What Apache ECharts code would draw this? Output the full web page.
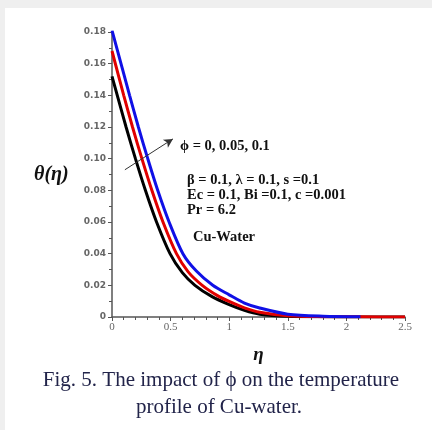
<!DOCTYPE html>
<html>
<head>
<meta charset="utf-8">
<script src="https://cdn.jsdelivr.net/npm/echarts@6/dist/echarts.min.js"></script>
<style>
html,body{margin:0;padding:0;background:#efefef;}
#wrap{position:absolute;left:0;top:0;width:432px;height:430px;background:#efefef;}
#chart{position:absolute;left:5px;top:8px;width:427px;height:422px;background:#fff;}
</style>
</head>
<body>
<div id="wrap"><div id="chart"></div></div>
<script>
// Data (eta, theta) for phi = 0 (black), 0.05 (red), 0.1 (blue)
const etaBlack   = [0, 0.045, 0.12, 0.2, 0.285, 0.38, 0.495, 0.6, 0.708, 0.85, 1.0, 1.13, 1.26, 1.5, 1.8, 2.1, 2.5];
const thetaBlack = [0.152, 0.14, 0.12, 0.10, 0.08, 0.06, 0.04, 0.028, 0.02, 0.013, 0.0078, 0.0042, 0.0018, 0.0004, 0.0001, 0, 0];
const etaRed     = [0, 0.1, 0.175, 0.255, 0.34, 0.435, 0.55, 0.65, 0.77, 0.9, 1.0, 1.13, 1.26, 1.5, 1.8, 2.1, 2.5];
const thetaRed   = [0.168, 0.14, 0.12, 0.10, 0.08, 0.06, 0.04, 0.0285, 0.02, 0.0135, 0.0098, 0.0058, 0.003, 0.0008, 0.0002, 0.0001, 0];
const etaBlue    = [0, 0.15, 0.225, 0.305, 0.39, 0.487, 0.605, 0.72, 0.86, 1.0, 1.13, 1.26, 1.5, 1.8, 2.12];
const thetaBlue  = [0.181, 0.14, 0.12, 0.10, 0.08, 0.06, 0.04, 0.029, 0.02, 0.014, 0.0088, 0.0057, 0.0018, 0.0005, 0.0002];
const xTicks = [0, 0.5, 1, 1.5, 2, 2.5];
const yTicks = [0, 0.02, 0.04, 0.06, 0.08, 0.10, 0.12, 0.14, 0.16, 0.18];
const arrowFrom = [0.11, 0.093];
const arrowTo = [0.52, 0.1125];

const pairs = (xs, ys) => xs.map((x, i) => [x, ys[i]]);
const chart = echarts.init(document.getElementById('chart'), null, {renderer: 'canvas'});
// chart div offset: left 5, top 8
const OX = 5, OY = 8;
const serif = '"Liberation Serif", "DejaVu Serif", serif';
const line = (name, color, xs, ys, z, extra) => Object.assign({
  name, type: 'line', data: pairs(xs, ys), showSymbol: false, symbol: 'none',
  smooth: 0.3, z,
  lineStyle: {color, width: 3}, itemStyle: {color}
}, extra || {});

chart.setOption({
  animation: false,
  backgroundColor: '#fff',
  grid: {left: 112 - OX, right: 27, top: 32 - OY, bottom: 430 - 317 , containLabel: false},
  xAxis: {
    type: 'value', min: 0, max: 2.5, interval: 0.5,
    axisLine: {show: true, onZero: false, lineStyle: {color: '#555', width: 1.5}},
    axisTick: {show: true, length: 4, lineStyle: {color: '#555'}},
    minorTick: {show: true, splitNumber: 5, length: 3, lineStyle: {color: '#555'}},
    splitLine: {show: false},
    axisLabel: {color: '#666', fontFamily: serif, fontSize: 11, margin: 5,
      formatter: v => xTicks.includes(v) ? String(v) : ''},
    name: 'η', nameLocation: 'middle', nameGap: 29,
    nameTextStyle: {fontFamily: serif, fontStyle: 'italic', fontWeight: 'bold', fontSize: 19, color: '#111'}
  },
  yAxis: {
    type: 'value', min: 0, max: 0.18, interval: 0.02,
    axisLine: {show: true, onZero: false, lineStyle: {color: '#555', width: 1.5}},
    axisTick: {show: true, length: 4, lineStyle: {color: '#555'}},
    minorTick: {show: true, splitNumber: 2, length: 3, lineStyle: {color: '#555'}},
    splitLine: {show: false},
    axisLabel: {color: '#666', fontFamily: '"DejaVu Sans", sans-serif', fontWeight: 'bold', fontSize: 9, margin: 6,
      formatter: v => { const t = yTicks.find(q => Math.abs(q - v) < 1e-9); return t === 0 ? '0' : t.toFixed(2); }}
  },
  series: [
    line('phi=0', '#000000', etaBlack, thetaBlack, 2),
    line('phi=0.05', '#e00000', etaRed, thetaRed, 3),
    line('phi=0.1', '#1010e6', etaBlue, thetaBlue, 4, {
      markLine: {
        silent: true, symbol: ['none', 'arrow'], symbolSize: [7, 9],
        label: {show: false},
        lineStyle: {color: '#333', width: 1, type: 'solid'},
        data: [[{coord: arrowFrom}, {coord: arrowTo}]]
      }
    })
  ],
  graphic: [
    {type: 'text', left: 34 - OX, top: 165 - OY, style: {text: 'θ(η)', font: 'italic bold 20px ' + serif, fill: '#111'}},
    {type: 'text', left: 180 - OX, top: 139 - OY, style: {text: 'ϕ = 0, 0.05, 0.1', font: 'bold 14.5px ' + serif, fill: '#111'}},
    {type: 'text', left: 187 - OX, top: 173 - OY, style: {text: 'β = 0.1, λ = 0.1, s =0.1', font: 'bold 14.5px ' + serif, fill: '#111'}},
    {type: 'text', left: 187 - OX, top: 188 - OY, style: {text: 'Ec = 0.1, Bi =0.1, c =0.001', font: 'bold 14.5px ' + serif, fill: '#111'}},
    {type: 'text', left: 187 - OX, top: 203 - OY, style: {text: 'Pr = 6.2', font: 'bold 14.5px ' + serif, fill: '#111'}},
    {type: 'text', left: 193 - OX, top: 230 - OY, style: {text: 'Cu-Water', font: 'bold 14.5px ' + serif, fill: '#111'}},
    {type: 'text', x: 221 - OX, y: 380 - OY, style: {text: 'Fig. 5. The impact of ϕ on the temperature', font: '21px ' + serif, fill: '#22244a', align: 'center', verticalAlign: 'middle'}},
    {type: 'text', x: 219 - OX, y: 407 - OY, style: {text: 'profile of Cu-water.', font: '21px ' + serif, fill: '#22244a', align: 'center', verticalAlign: 'middle'}}
  ]
});
</script>
</body>
</html>
